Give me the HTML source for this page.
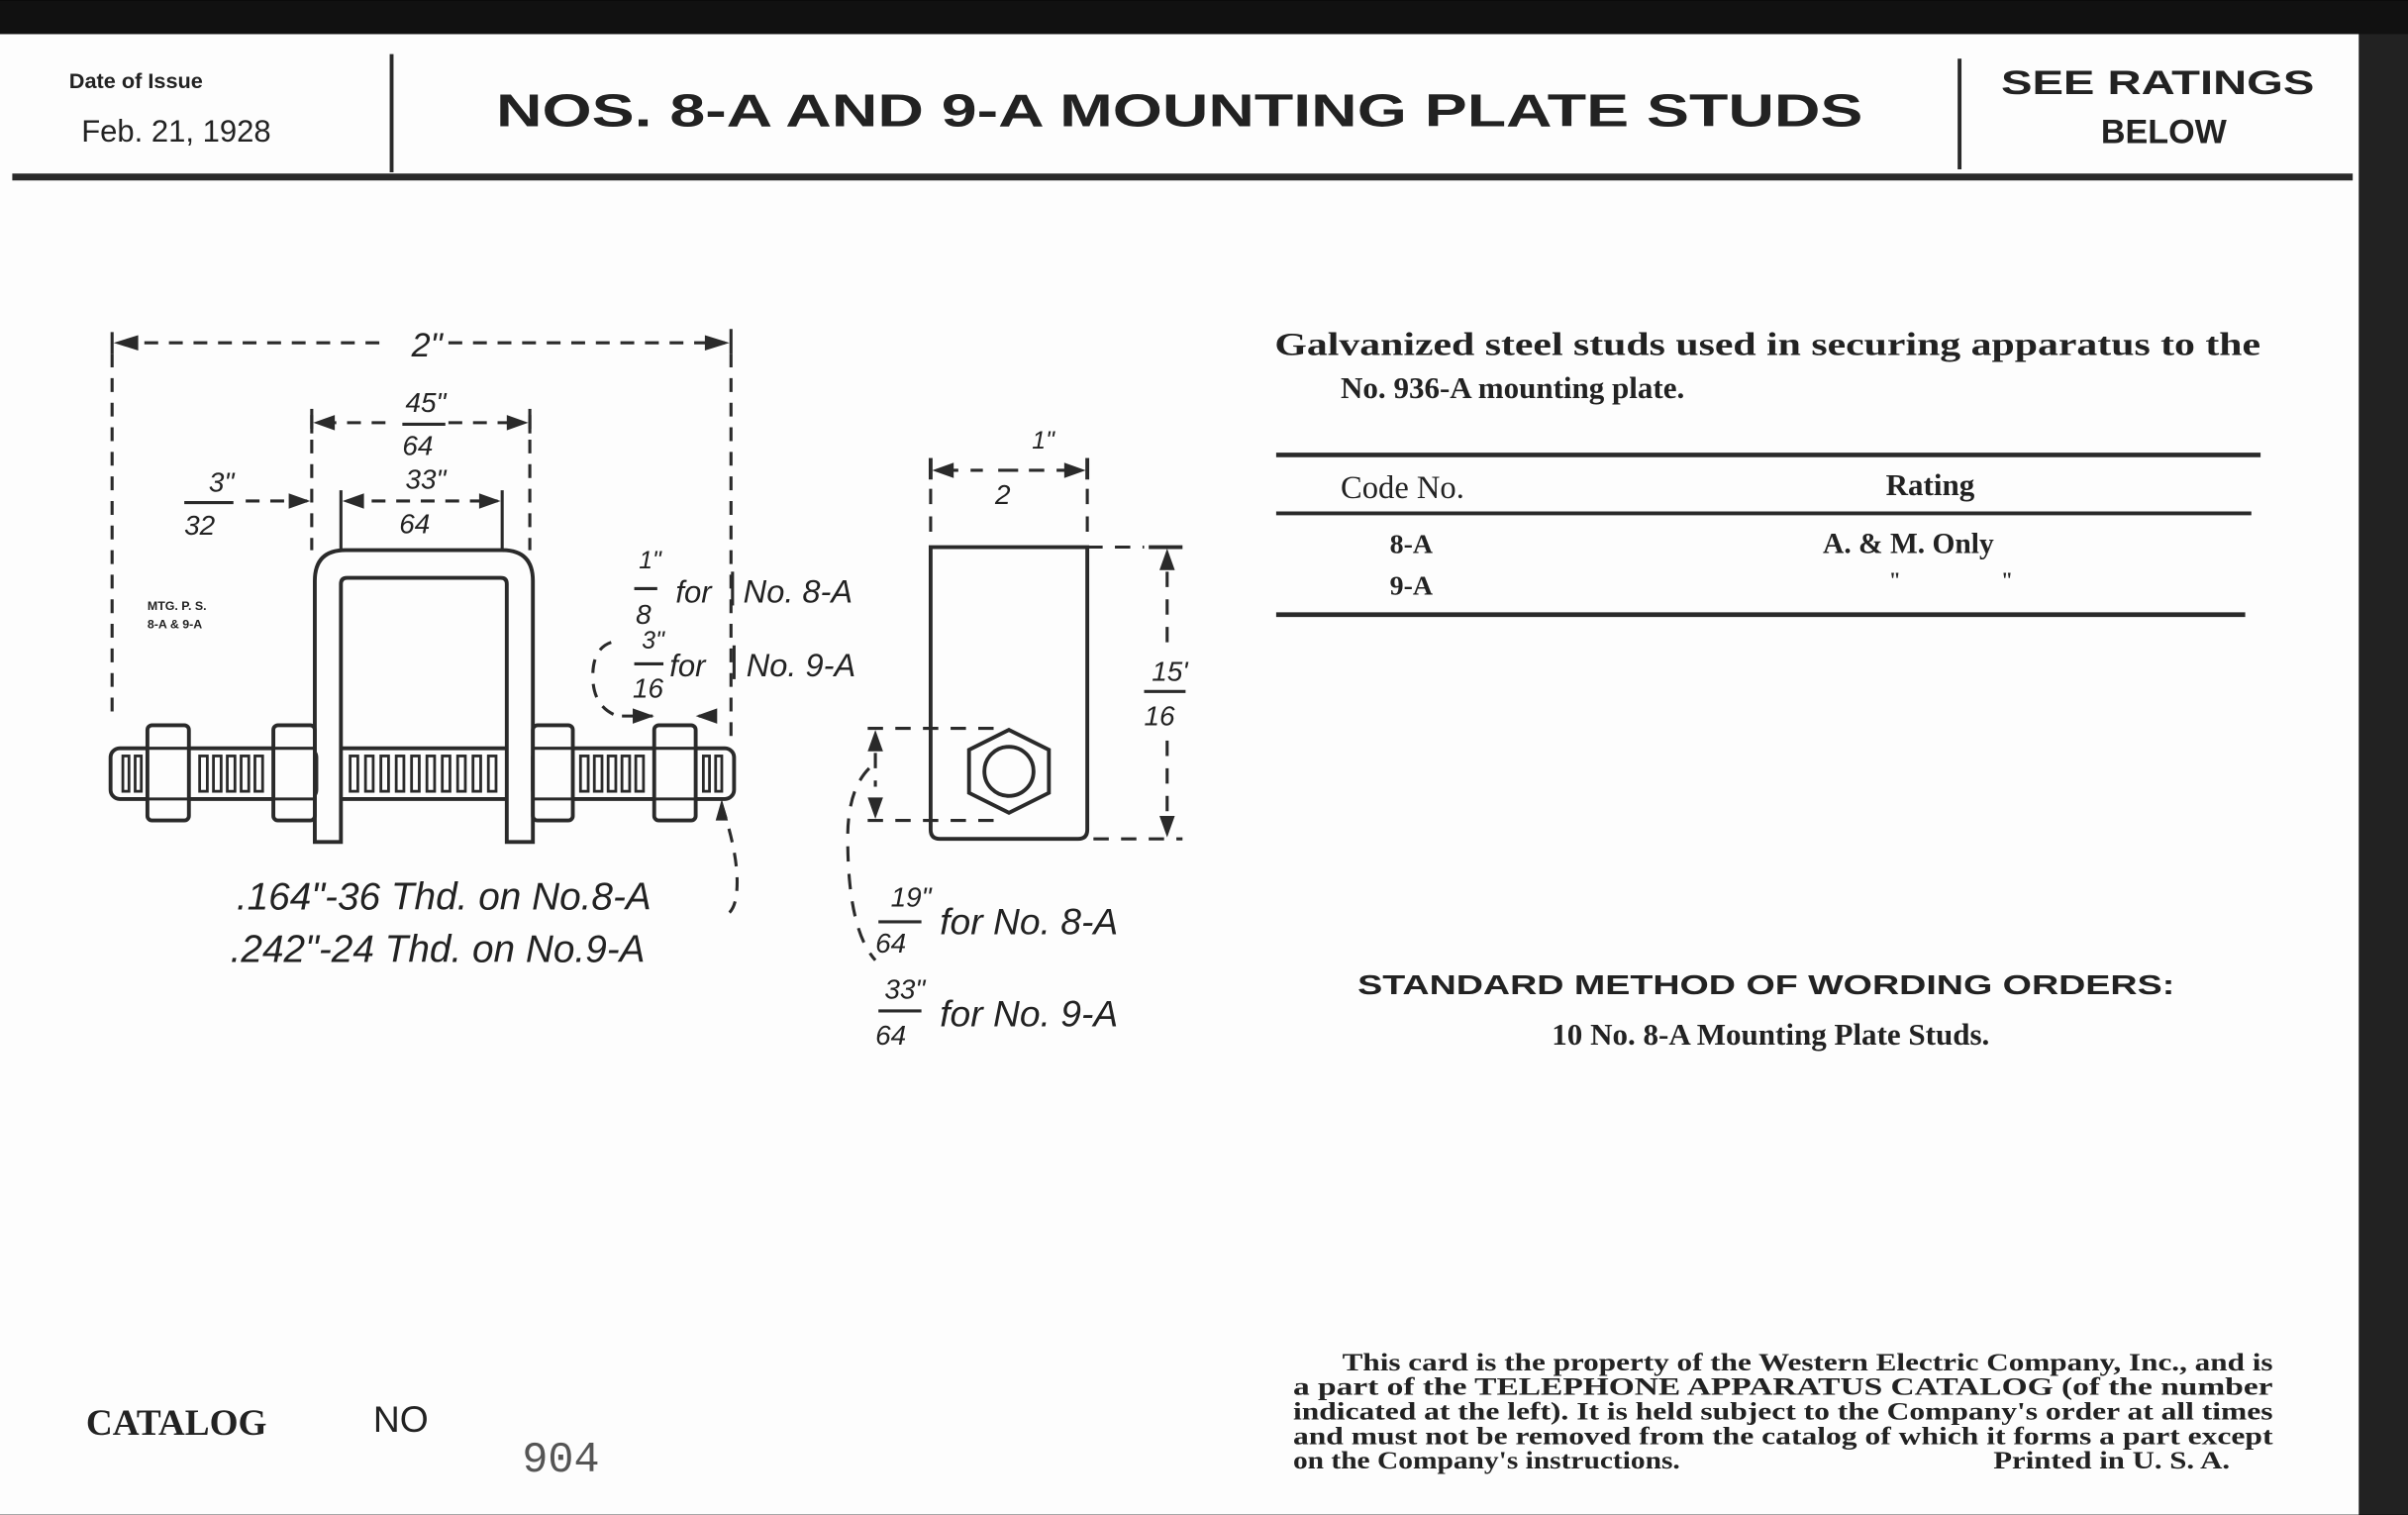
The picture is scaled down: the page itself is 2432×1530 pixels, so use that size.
<!DOCTYPE html>
<html><head><meta charset="utf-8"><style>
html,body{margin:0;padding:0;background:#000;}
svg{display:block}
.s{font-family:"Liberation Sans",sans-serif;font-weight:bold;fill:#222}
.r{font-family:"Liberation Serif",serif;font-weight:bold;fill:#222}
.h{font-family:"Liberation Sans",sans-serif;font-style:italic;fill:#222}
</style></head><body>
<svg width="2432" height="1530" viewBox="0 0 1568 986" xmlns="http://www.w3.org/2000/svg">
<rect x="0" y="0" width="1568" height="986" fill="#111"/>
<rect x="0" y="22" width="1536" height="964" fill="#fdfdfd"/>
<rect x="1536" y="22" width="32" height="964" fill="#222"/>
<g stroke="#2a2a2a" fill="none">
<line x1="255" y1="35" x2="255" y2="112" stroke-width="2.5"/>
<line x1="1276" y1="38" x2="1276" y2="110" stroke-width="2.5"/>
<line x1="8" y1="115" x2="1532" y2="115" stroke-width="4.5"/>
</g>
<text x="45" y="57" class="s" font-size="14">Date of Issue</text>
<text x="53" y="92" font-family="Liberation Sans,sans-serif" font-size="20" fill="#222">Feb. 21, 1928</text>
<text x="768" y="82" class="s" font-size="30" text-anchor="middle" textLength="890" lengthAdjust="spacingAndGlyphs">NOS. 8-A AND 9-A MOUNTING PLATE STUDS</text>
<text x="1405" y="61" class="s" font-size="22" text-anchor="middle" textLength="204" lengthAdjust="spacingAndGlyphs">SEE RATINGS</text>
<text x="1409" y="93" class="s" font-size="22" text-anchor="middle">BELOW</text>

<!-- left drawing -->
<g stroke="#2a2a2a" fill="none" stroke-width="2">
<g stroke-dasharray="9,7">
<line x1="78" y1="223" x2="250" y2="223"/><line x1="292" y1="223" x2="472" y2="223"/>
<line x1="73" y1="230" x2="73" y2="470"/><line x1="476" y1="230" x2="476" y2="480"/>
<line x1="210" y1="275" x2="258" y2="275"/><line x1="292" y1="275" x2="340" y2="275"/>
<line x1="203" y1="270" x2="203" y2="358"/><line x1="345" y1="270" x2="345" y2="358"/>
<line x1="160" y1="326" x2="200" y2="326"/><line x1="226" y1="326" x2="324" y2="326"/>
<path d="M398 418 q-12 4 -12 22 q0 20 16 26"/>
<line x1="405" y1="466" x2="425" y2="466"/><line x1="455" y1="466" x2="468" y2="466"/>
<path d="M470 524 q10 30 10 50 q0 15 -5 20"/>
</g>
<line x1="73" y1="216" x2="73" y2="230"/><line x1="476" y1="214" x2="476" y2="230"/>
<line x1="203" y1="266" x2="203" y2="282"/><line x1="345" y1="266" x2="345" y2="282"/>
<line x1="222" y1="319" x2="222" y2="360"/><line x1="327" y1="319" x2="327" y2="360"/>
<path d="M205 548 V378 q0 -20 20 -20 H327 q20 0 20 20 V548 H330 V380 q0 -4 -4 -4 H226 q-4 0 -4 4 V548 Z" fill="#fdfdfd" stroke-width="2.5"/>
<rect x="72" y="487" width="134" height="33" rx="6" stroke-width="2.5"/>
<rect x="347" y="487" width="131" height="33" rx="6" stroke-width="2.5"/>
<line x1="222" y1="487" x2="330" y2="487" stroke-width="2.5"/><line x1="222" y1="520" x2="330" y2="520" stroke-width="2.5"/>
<g fill="#fdfdfd" stroke-width="2.5">
<rect x="96" y="472" width="27" height="62" rx="3"/><rect x="178" y="472" width="27" height="62" rx="3"/>
<rect x="347" y="472" width="26" height="62" rx="3"/><rect x="426" y="472" width="27" height="62" rx="3"/>
</g>
<g stroke-width="2">
<line x1="96" y1="487" x2="123" y2="487"/><line x1="96" y1="520" x2="123" y2="520"/>
<line x1="178" y1="487" x2="205" y2="487"/><line x1="178" y1="520" x2="205" y2="520"/>
<line x1="347" y1="487" x2="373" y2="487"/><line x1="347" y1="520" x2="373" y2="520"/>
<line x1="426" y1="487" x2="453" y2="487"/><line x1="426" y1="520" x2="453" y2="520"/>
</g>
<g stroke-width="1.8">
<rect x="80" y="492" width="4" height="23"/><rect x="88" y="492" width="4" height="23"/>
<rect x="130" y="492" width="5" height="23"/><rect x="139" y="492" width="5" height="23"/><rect x="148" y="492" width="5" height="23"/><rect x="157" y="492" width="5" height="23"/><rect x="166" y="492" width="5" height="23"/>
<rect x="228" y="492" width="5" height="23"/><rect x="238" y="492" width="5" height="23"/><rect x="248" y="492" width="5" height="23"/><rect x="258" y="492" width="5" height="23"/><rect x="268" y="492" width="5" height="23"/><rect x="278" y="492" width="5" height="23"/><rect x="288" y="492" width="5" height="23"/><rect x="298" y="492" width="5" height="23"/><rect x="308" y="492" width="5" height="23"/><rect x="318" y="492" width="5" height="23"/>
<rect x="378" y="492" width="5" height="23"/><rect x="387" y="492" width="5" height="23"/><rect x="396" y="492" width="5" height="23"/><rect x="405" y="492" width="5" height="23"/><rect x="414" y="492" width="5" height="23"/>
<rect x="458" y="492" width="4" height="23"/><rect x="466" y="492" width="4" height="23"/>
</g>
</g>
<g fill="#2a2a2a">
<path d="M74 223 l16 -5 v10z"/><path d="M475 223 l-16 -5 v10z"/>
<path d="M204 275 l14 -5 v10z"/><path d="M344 275 l-14 -5 v10z"/>
<path d="M202 326 l-14 -5 v10z"/><path d="M223 326 l14 -5 v10z"/><path d="M326 326 l-14 -5 v10z"/>
<path d="M426 466 l-14 -5 v10z"/><path d="M453 466 l14 -5 v10z"/>
<path d="M470 520 l-4 14 h8z"/>
</g>
<g class="h" font-size="22">
<text x="268" y="232">2"</text>
<text x="264" y="268" font-size="18">45"</text><line x1="262" y1="276" x2="290" y2="276" stroke="#2a2a2a" stroke-width="2"/><text x="262" y="296" font-size="18">64</text>
<text x="136" y="320" font-size="18">3"</text><line x1="120" y1="327" x2="152" y2="327" stroke="#2a2a2a" stroke-width="2"/><text x="120" y="348" font-size="18">32</text>
<text x="264" y="318" font-size="18">33"</text><text x="260" y="347" font-size="18">64</text>
<text x="416" y="370" font-size="16">1"</text><line x1="413" y1="383" x2="428" y2="383" stroke="#2a2a2a" stroke-width="2"/><text x="414" y="406" font-size="18">8</text>
<text x="440" y="392" font-size="20">for</text><line x1="477" y1="372" x2="477" y2="394" stroke="#2a2a2a" stroke-width="2"/><text x="484" y="392" font-size="21">No. 8-A</text>
<text x="418" y="422" font-size="16">3"</text><line x1="413" y1="432" x2="432" y2="432" stroke="#2a2a2a" stroke-width="2"/><text x="412" y="454" font-size="18">16</text>
<text x="436" y="440" font-size="20">for</text><line x1="478" y1="420" x2="478" y2="442" stroke="#2a2a2a" stroke-width="2"/><text x="486" y="440" font-size="21">No. 9-A</text>
<text x="154" y="592" font-size="25">.164"-36 Thd. on No.8-A</text>
<text x="150" y="626" font-size="25">.242"-24 Thd. on No.9-A</text>
</g>
<text x="96" y="397" class="s" font-size="8">MTG. P. S.</text>
<text x="96" y="409" class="s" font-size="8">8-A &amp; 9-A</text>

<!-- side view -->
<g stroke="#2a2a2a" fill="none" stroke-width="2.5">
<path d="M606 356 H708 V540 q0 6 -6 6 H612 q-6 0 -6 -6 Z"/>
<polygon points="657,475 683,488 683,516 657,529 631,516 631,488"/>
<circle cx="657" cy="502" r="16"/>
<g stroke-width="2" stroke-dasharray="10,8">
<line x1="606" y1="300" x2="606" y2="352"/><line x1="708" y1="300" x2="708" y2="352"/>
<line x1="614" y1="306" x2="640" y2="306"/><line x1="670" y1="306" x2="700" y2="306"/>
<line x1="708" y1="356" x2="745" y2="356"/><line x1="712" y1="546" x2="770" y2="546"/>
<line x1="760" y1="372" x2="760" y2="420"/><line x1="760" y1="482" x2="760" y2="535"/>
<line x1="565" y1="474" x2="650" y2="474"/><line x1="565" y1="534" x2="650" y2="534"/>
<line x1="570" y1="490" x2="570" y2="512"/>
<path d="M566 500 q-14 14 -14 45 q0 60 18 80"/>
</g>
<line x1="606" y1="298" x2="606" y2="312"/><line x1="708" y1="298" x2="708" y2="312"/>
<line x1="748" y1="356" x2="770" y2="356"/>
</g>
<g fill="#2a2a2a">
<path d="M607 306 l14 -5 v10z"/><path d="M707 306 l-14 -5 v10z"/>
<path d="M760 357 l-5 14 h10z"/><path d="M760 545 l-5 -14 h10z"/>
<path d="M570 475 l-5 14 h10z"/><path d="M570 533 l-5 -14 h10z"/>
</g>
<g class="h">
<text x="672" y="292" font-size="16">1"</text><line x1="650" y1="306" x2="663" y2="306" stroke="#2a2a2a" stroke-width="2"/><text x="648" y="328" font-size="18">2</text>
<text x="750" y="443" font-size="18">15'</text><line x1="745" y1="450" x2="772" y2="450" stroke="#2a2a2a" stroke-width="2"/><text x="745" y="472" font-size="18">16</text>
<text x="580" y="590" font-size="18">19"</text><line x1="572" y1="600" x2="600" y2="600" stroke="#2a2a2a" stroke-width="2"/><text x="570" y="620" font-size="18">64</text>
<text x="612" y="608" font-size="24">for No. 8-A</text>
<text x="576" y="650" font-size="18">33"</text><line x1="572" y1="658" x2="600" y2="658" stroke="#2a2a2a" stroke-width="2"/><text x="570" y="680" font-size="18">64</text>
<text x="612" y="668" font-size="24">for No. 9-A</text>
</g>

<!-- right text -->
<text x="830" y="231" class="r" font-size="21" textLength="642" lengthAdjust="spacingAndGlyphs">Galvanized steel studs used in securing apparatus to the</text>
<text x="873" y="259" class="r" font-size="20">No. 936-A mounting plate.</text>
<line x1="831" y1="296" x2="1472" y2="296" stroke="#2a2a2a" stroke-width="3"/>
<text x="873" y="324" font-family="Liberation Serif,serif" font-size="21" fill="#222">Code No.</text>
<text x="1228" y="322" class="r" font-size="20">Rating</text>
<line x1="831" y1="334" x2="1466" y2="334" stroke="#2a2a2a" stroke-width="2.5"/>
<text x="905" y="360" class="r" font-size="18">8-A</text>
<text x="1187" y="360" class="r" font-size="19">A. &amp; M. Only</text>
<text x="905" y="387" class="r" font-size="18">9-A</text>
<text x="1230" y="382" class="r" font-size="14">"</text><text x="1303" y="382" class="r" font-size="14">"</text>
<line x1="831" y1="400" x2="1462" y2="400" stroke="#2a2a2a" stroke-width="3"/>
<text x="1150" y="647" class="s" font-size="18" text-anchor="middle" textLength="532" lengthAdjust="spacingAndGlyphs">STANDARD METHOD OF WORDING ORDERS:</text>
<text x="1153" y="680" class="r" font-size="20" text-anchor="middle">10 No. 8-A Mounting Plate Studs.</text>

<g class="r" font-size="16">
<text x="874" y="892" textLength="606" lengthAdjust="spacingAndGlyphs">This card is the property of the Western Electric Company, Inc., and is</text>
<text x="842" y="908" textLength="638" lengthAdjust="spacingAndGlyphs">a part of the TELEPHONE APPARATUS CATALOG (of the number</text>
<text x="842" y="924" textLength="638" lengthAdjust="spacingAndGlyphs">indicated at the left).  It is held subject to the Company's order at all times</text>
<text x="842" y="940" textLength="638" lengthAdjust="spacingAndGlyphs">and must not be removed from the catalog of which it forms a part except</text>
<text x="842" y="956" textLength="252" lengthAdjust="spacingAndGlyphs">on the Company's instructions.</text>
<text x="1298" y="956" textLength="154" lengthAdjust="spacingAndGlyphs">Printed in U. S. A.</text>
</g>
<text x="56" y="934" font-family="Liberation Serif,serif" font-size="24" font-weight="bold" fill="#222">CATALOG</text>
<text x="243" y="932" font-family="Liberation Sans,sans-serif" font-size="24" fill="#222">NO</text>
<text x="340" y="958" font-family="Liberation Mono,monospace" font-size="28" fill="#555">904</text>
</svg>
</body></html>
